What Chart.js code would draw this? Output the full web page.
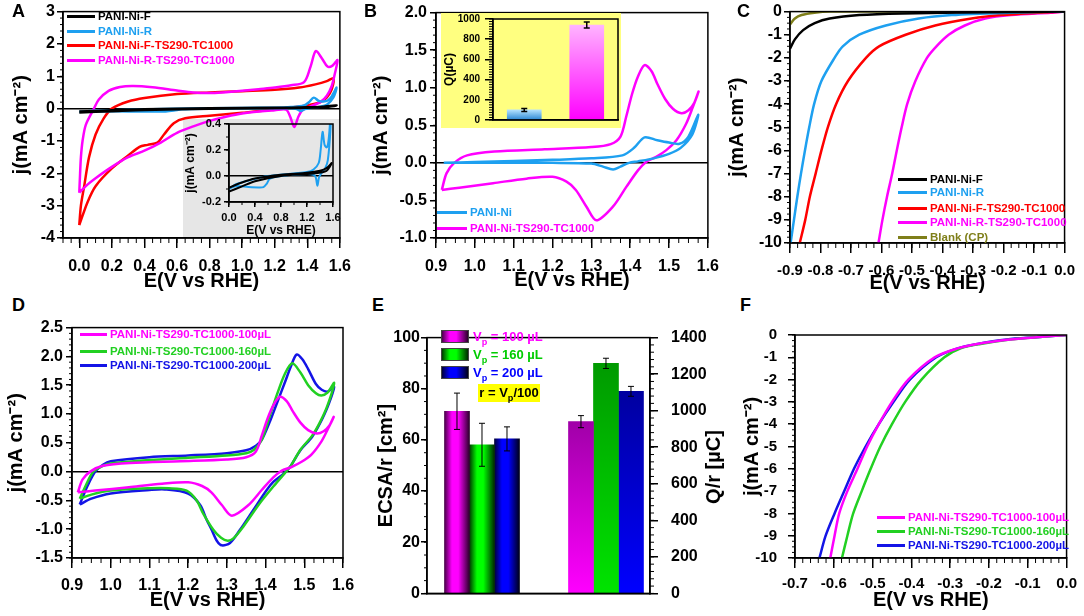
<!DOCTYPE html>
<html lang="en">
<head>
<meta charset="UTF-8">
<title>PANI-Ni electrochemistry</title>
<script src="https://cdn.jsdelivr.net/npm/chart.js@4.4.1/dist/chart.umd.min.js"></script>
<style>
  body { margin: 0; background: #fff; }
  #page { position: relative; width: 1084px; height: 616px; overflow: hidden; font-family: 'Liberation Sans', Arial, sans-serif; font-weight: bold; color: #000; }
  #page > * { position: absolute; }
  .tag { font-size: 18px; line-height: 18px; }
  .lg { display: flex; align-items: center; height: 0; white-space: nowrap; font-size: 11.5px; }
  .lg i { display: inline-block; height: 3px; margin-right: 3px; }
  .gray { background: #e6e6e6; }
  .yel { background: #ffff80; }
  .vp { display: flex; align-items: center; height: 0; font-size: 13px; white-space: nowrap; }
  .vp b { display: inline-block; width: 26px; height: 11px; border: 1px solid #444; margin-right: 4px; }
  .rbox { background: #ffff00; font-size: 13px; text-align: center; line-height: 18px; }
  .rt { font-size: 20px; white-space: nowrap; transform: translate(-50%, -50%) rotate(-90deg); }
  sub { font-size: 70%; line-height: 0; }
</style>
</head>
<body>
<div id="page"></div>
<script>
// ---- data ----
const aNames = ['PANI-Ni-F', 'PANI-Ni-R', 'PANI-Ni-F-TS290-TC1000', 'PANI-Ni-R-TS290-TC1000'];
const bNames = ['PANI-Ni', 'PANI-Ni-TS290-TC1000'];
const cNames = ['PANI-Ni-F', 'PANI-Ni-R', 'PANI-Ni-F-TS290-TC1000', 'PANI-Ni-R-TS290-TC1000', 'Blank (CP)'];
const dNames = ['PANI-Ni-TS290-TC1000-100µL', 'PANI-Ni-TS290-TC1000-160µL', 'PANI-Ni-TS290-TC1000-200µL'];

// A: CV 0 - 1.6 V
const aNiF_E = [0.0, 0.2, 0.4, 0.8, 1.2, 1.4, 1.5, 1.58, 1.5, 1.3, 0.8, 0.4, 0.2, 0.0];
const aNiF_J = [-0.09, -0.05, -0.02, 0.01, 0.025, 0.04, 0.06, 0.1, 0.04, 0.02, 0.0, -0.04, -0.08, -0.12];
const aNiR_E = [0.0, 0.1, 0.3, 0.6, 1.0, 1.2, 1.3, 1.38, 1.41, 1.44, 1.47, 1.5, 1.525, 1.55, 1.58, 1.56, 1.52, 1.48, 1.42, 1.385, 1.36, 1.335, 1.3, 1.2, 1.0, 0.8, 0.63, 0.58, 0.53, 0.45, 0.3, 0.1, 0.0];
const aNiR_J = [-0.1, -0.065, -0.035, 0.0, 0.02, 0.03, 0.05, 0.1, 0.2, 0.34, 0.24, 0.22, 0.25, 0.38, 0.65, 0.35, 0.12, 0.06, 0.02, -0.01, -0.075, -0.01, 0.01, 0.015, 0.01, 0.0, -0.02, -0.06, -0.085, -0.088, -0.085, -0.078, -0.1];
const aFT_E = [0.0, 0.01, 0.03, 0.06, 0.1, 0.15, 0.2, 0.3, 0.4, 0.6, 0.8, 1.0, 1.2, 1.35, 1.45, 1.52, 1.56, 1.55, 1.52, 1.48, 1.4, 1.3, 1.2, 1.0, 0.8, 0.65, 0.58, 0.52, 0.48, 0.42, 0.37, 0.3, 0.2, 0.1, 0.05, 0.0];
const aFT_J = [-3.6, -3.0, -2.4, -1.5, -0.8, -0.3, 0.0, 0.22, 0.33, 0.45, 0.5, 0.54, 0.58, 0.65, 0.75, 0.85, 0.94, 0.6, 0.35, 0.2, 0.1, 0.04, -0.03, -0.13, -0.22, -0.3, -0.45, -0.8, -1.05, -1.12, -1.18, -1.45, -1.85, -2.4, -2.9, -3.6];
const aRT_E = [0.0, 0.005, 0.01, 0.02, 0.04, 0.09, 0.12, 0.18, 0.25, 0.33, 0.45, 0.6, 0.7, 0.8, 0.9, 1.0, 1.1, 1.2, 1.3, 1.38, 1.42, 1.452, 1.49, 1.524, 1.555, 1.585, 1.57, 1.55, 1.52, 1.48, 1.42, 1.37, 1.345, 1.32, 1.295, 1.27, 1.2, 1.0, 0.9, 0.8, 0.7, 0.6, 0.5, 0.4, 0.3, 0.2, 0.1, 0.05, 0.0];
const aRT_J = [-2.6, -2.0, -1.5, -1.0, -0.5, 0.0, 0.28, 0.55, 0.67, 0.7, 0.66, 0.56, 0.5, 0.48, 0.51, 0.55, 0.6, 0.65, 0.72, 0.82, 1.3, 1.78, 1.55, 1.3, 1.33, 1.5, 1.1, 0.7, 0.4, 0.2, 0.07, -0.05, -0.25, -0.57, -0.25, -0.03, -0.05, -0.15, -0.25, -0.38, -0.55, -0.75, -1.05, -1.3, -1.5, -1.8, -2.15, -2.35, -2.6];
const aXLabels = ['0.0', '0.2', '0.4', '0.6', '0.8', '1.0', '1.2', '1.4', '1.6'];
const aYLabels = ['-4', '-3', '-2', '-1', '0', '1', '2', '3'];
const aInXLabels = ['0.0', '0.4', '0.8', '1.2', '1.6'];
const aInYLabels = ['-0.2', '0.0', '0.2', '0.4'];

// B: CV 0.9 - 1.6 V + charge inset
const bNi_E = [0.92, 1.0, 1.2, 1.3, 1.38, 1.41, 1.437, 1.47, 1.5, 1.527, 1.55, 1.575, 1.56, 1.53, 1.5, 1.46, 1.42, 1.397, 1.375, 1.356, 1.33, 1.3, 1.2, 1.0, 0.92];
const bNi_J = [0.0, 0.01, 0.04, 0.06, 0.1, 0.2, 0.34, 0.3, 0.27, 0.255, 0.35, 0.64, 0.38, 0.2, 0.12, 0.06, 0.02, 0.0, -0.05, -0.088, -0.05, -0.01, 0.0, 0.0, 0.0];
const bT_E = [0.915, 0.927, 0.947, 0.98, 1.05, 1.18, 1.3, 1.35, 1.375, 1.39, 1.405, 1.42, 1.437, 1.455, 1.47, 1.49, 1.51, 1.532, 1.55, 1.565, 1.576, 1.561, 1.544, 1.519, 1.493, 1.467, 1.441, 1.42, 1.39, 1.356, 1.313, 1.287, 1.26, 1.236, 1.2, 1.133, 1.047, 0.96, 0.915];
const bT_J = [-0.36, -0.14, 0.0, 0.1, 0.15, 0.18, 0.21, 0.25, 0.35, 0.62, 0.92, 1.15, 1.3, 1.22, 1.05, 0.85, 0.72, 0.66, 0.7, 0.8, 0.95, 0.74, 0.52, 0.3, 0.17, 0.08, 0.013, -0.1, -0.32, -0.58, -0.765, -0.58, -0.36, -0.25, -0.185, -0.21, -0.27, -0.33, -0.36];
const bXLabels = ['0.9', '1.0', '1.1', '1.2', '1.3', '1.4', '1.5', '1.6'];
const bYLabels = ['-1.0', '-0.5', '0.0', '0.5', '1.0', '1.5', '2.0'];
const bQ = [100, 940];
const bQErr = [15, 30];
const bQLabels = ['0', '200', '400', '600', '800', '1000'];

// C: LSV (HER)
const cJ = [-10, -9, -8, -7, -6, -5, -4, -3, -2, -1.5, -1, -0.6, -0.3, -0.15, -0.05, 0];
const cNiR_E = [-0.898, -0.887, -0.876, -0.864, -0.851, -0.837, -0.821, -0.797, -0.754, -0.727, -0.673, -0.586, -0.478, -0.37, -0.175, 0.0];
const cFT_E = [-0.868, -0.85, -0.835, -0.816, -0.797, -0.776, -0.749, -0.71, -0.651, -0.608, -0.521, -0.424, -0.305, -0.208, -0.089, 0.0];
const cRT_E = [-0.61, -0.597, -0.582, -0.565, -0.55, -0.534, -0.516, -0.489, -0.451, -0.42, -0.38, -0.327, -0.26, -0.175, -0.045, 0.0];
const cNiF_E = [-0.9, -0.884, -0.857, -0.819, -0.77, -0.673, -0.532, -0.26, 0.0];
const cNiF_J = [-1.6, -1.2, -0.8, -0.5, -0.3, -0.15, -0.08, -0.03, 0.0];
const cCP_E = [-0.9, -0.884, -0.862, -0.82, -0.77, -0.5, 0.0];
const cCP_J = [-0.55, -0.3, -0.15, -0.05, 0.0, 0.0, 0.0];
const cXLabels = ['-0.9', '-0.8', '-0.7', '-0.6', '-0.5', '-0.4', '-0.3', '-0.2', '-0.1', '0.0'];
const cYLabels = ['-10', '-9', '-8', '-7', '-6', '-5', '-4', '-3', '-2', '-1', '0'];

// D: CV vs loading (100 µL curve = bT)
const dG_E = [0.92, 0.935, 0.955, 0.98, 1.0, 1.1, 1.2, 1.3, 1.35, 1.37, 1.39, 1.41, 1.43, 1.45, 1.469, 1.49, 1.51, 1.53, 1.544, 1.56, 1.577, 1.56, 1.54, 1.52, 1.49, 1.465, 1.448, 1.42, 1.385, 1.342, 1.317, 1.302, 1.285, 1.265, 1.239, 1.222, 1.196, 1.15, 1.1, 1.0, 0.95, 0.92];
const dG_J = [-0.47, -0.25, 0.0, 0.1, 0.14, 0.2, 0.24, 0.28, 0.32, 0.38, 0.55, 0.95, 1.35, 1.7, 1.88, 1.72, 1.5, 1.36, 1.32, 1.37, 1.54, 1.15, 0.85, 0.62, 0.38, 0.1, -0.04, -0.26, -0.55, -0.96, -1.16, -1.2, -1.15, -1.01, -0.73, -0.5, -0.33, -0.29, -0.29, -0.33, -0.4, -0.47];
const dB_E = [0.92, 0.94, 0.96, 0.98, 1.0, 1.1, 1.2, 1.3, 1.35, 1.375, 1.39, 1.41, 1.43, 1.45, 1.465, 1.48, 1.495, 1.51, 1.53, 1.545, 1.561, 1.577, 1.56, 1.54, 1.52, 1.49, 1.463, 1.446, 1.42, 1.403, 1.368, 1.334, 1.308, 1.287, 1.274, 1.26, 1.248, 1.231, 1.2, 1.14, 1.1, 1.0, 0.95, 0.92];
const dB_J = [-0.57, -0.25, 0.0, 0.12, 0.18, 0.25, 0.28, 0.32, 0.37, 0.45, 0.55, 0.85, 1.2, 1.55, 1.82, 2.03, 1.95, 1.78, 1.52, 1.42, 1.39, 1.47, 1.12, 0.83, 0.6, 0.37, 0.08, -0.04, -0.18, -0.32, -0.67, -1.01, -1.24, -1.28, -1.2, -1.0, -0.84, -0.58, -0.38, -0.31, -0.32, -0.38, -0.47, -0.57];
const dXLabels = ['0.9', '1.0', '1.1', '1.2', '1.3', '1.4', '1.5', '1.6'];
const dYLabels = ['-1.5', '-1.0', '-0.5', '0.0', '0.5', '1.0', '1.5', '2.0', '2.5'];

// E: ECSA/r and Q/r
const eVolumes = ['100', '160', '200'];
const eEcsa = [71.2, 58.1, 60.4];
const eEcsaErr = [7.1, 8.4, 4.7];
const eQ = [940, 1259, 1106];
const eQErr = [33, 28, 27];
const eYLabels = ['0', '20', '40', '60', '80', '100'];
const eY2Labels = ['0', '200', '400', '600', '800', '1000', '1200', '1400'];

// F: LSV vs loading
const fJ = [-10, -9, -8, -7, -6, -5, -4, -3, -2, -1, -0.6, -0.4, -0.2, -0.1, 0];
const f100_E = [-0.609, -0.598, -0.586, -0.565, -0.539, -0.514, -0.484, -0.45, -0.408, -0.34, -0.281, -0.23, -0.146, -0.078, 0.0];
const f160_E = [-0.579, -0.565, -0.55, -0.528, -0.505, -0.48, -0.45, -0.416, -0.374, -0.315, -0.273, -0.222, -0.146, -0.078, 0.0];
const f200_E = [-0.637, -0.621, -0.598, -0.573, -0.548, -0.518, -0.484, -0.446, -0.404, -0.336, -0.281, -0.23, -0.154, -0.078, 0.0];
const fXLabels = ['-0.7', '-0.6', '-0.5', '-0.4', '-0.3', '-0.2', '-0.1', '0.0'];
const fYLabels = cYLabels;

// ---- colours ----
const BLACK = '#000000', LBLUE = '#1ea0f0', RED = '#ff0000', MAG = '#ff00ff', OLIVE = '#7f7f1a', GREEN = '#22d022', BLUE = '#1414e6';

Chart.defaults.font.family = "'Liberation Sans', Arial, sans-serif";
Chart.defaults.font.weight = 'bold';
Chart.defaults.color = '#000';
Chart.defaults.animation = false;
Chart.defaults.plugins.legend.display = false;
Chart.defaults.plugins.tooltip.enabled = false;

const page = document.getElementById('page');
const J_TITLE = 'j(mA cm\u207B\u00B2)';
const E_TITLE = 'E(V vs RHE)';

function place(tag, l, t, r, b, cls) {
  const el = document.createElement(tag);
  el.style.left = l + 'px';
  el.style.top = t + 'px';
  el.style.width = (r - l) + 'px';
  el.style.height = (b - t) + 'px';
  if (tag === 'canvas') { el.width = r - l; el.height = b - t; }
  if (cls) el.className = cls;
  page.appendChild(el);
  return el;
}

function text(html, l, t, cls) {
  const d = document.createElement('div');
  d.innerHTML = html;
  d.className = cls || '';
  d.style.left = l + 'px';
  d.style.top = t + 'px';
  page.appendChild(d);
  return d;
}

function legend(x, ys, names, colors, lineW) {
  names.forEach((n, i) => {
    const row = text('<i style="width:' + lineW + 'px;background:' + colors[i] + '"></i><span>' + n + '</span>', x, ys[i], 'lg');
    row.style.color = colors[i];
  });
}

// linear axis with fixed tick list and fixed thickness
function axis(pos, labels, o) {
  const vals = labels.map(Number);
  return {
    type: 'linear', position: pos,
    min: o.min ?? Math.min(...vals), max: o.max ?? Math.max(...vals),
    afterBuildTicks: s => { s.ticks = vals.map(v => ({ value: v })); },
    afterFit: s => { if (s.isHorizontal()) s.height = o.size; else s.width = o.size; },
    ticks: { autoSkip: false, maxRotation: 0, padding: o.pad, font: { size: o.fs || 16 }, callback: (v, i) => labels[i] },
    grid: {
      drawOnChartArea: !!o.zero,
      color: c => (o.zero && c.tick && c.tick.value === 0) ? '#000' : 'rgba(0,0,0,0)',
      lineWidth: 1.5, tickColor: '#000', tickLength: o.tl, tickWidth: 1.5
    },
    border: { color: '#000', width: 1.5 },
    title: { display: !!o.title, text: o.title, font: { size: o.tfs || 20 }, padding: { top: o.tp || 0, bottom: o.tp || 0 } }
  };
}

// minor ticks + closed frame
function frame(minor) {
  return {
    id: 'frame',
    afterDraw(chart) {
      const ctx = chart.ctx, a = chart.chartArea;
      ctx.save();
      ctx.strokeStyle = '#000';
      ctx.lineWidth = 1;
      minor.forEach(([id, step, len]) => {
        const s = chart.scales[id];
        const k0 = Math.ceil(s.min / step - 1e-6), k1 = Math.floor(s.max / step + 1e-6);
        for (let k = k0; k <= k1; k++) {
          const p = s.getPixelForValue(k * step);
          ctx.beginPath();
          if (s.isHorizontal()) { ctx.moveTo(p, a.bottom); ctx.lineTo(p, a.bottom + len); }
          else if (s.position === 'left') { ctx.moveTo(a.left, p); ctx.lineTo(a.left - len, p); }
          else { ctx.moveTo(a.right, p); ctx.lineTo(a.right + len, p); }
          ctx.stroke();
        }
      });
      ctx.lineWidth = 1.5;
      ctx.strokeRect(a.left, a.top, a.right - a.left, a.bottom - a.top);
      ctx.restore();
    }
  };
}

// error bars from dataset.errs
function errBars(cap, w) {
  return {
    id: 'errbars',
    afterDatasetsDraw(chart) {
      const ctx = chart.ctx;
      ctx.save();
      ctx.strokeStyle = '#000';
      ctx.lineWidth = w;
      chart.data.datasets.forEach((ds, i) => {
        const meta = chart.getDatasetMeta(i);
        const ys = chart.scales[meta.yAxisID];
        meta.data.forEach((bar, j) => {
          const p = meta.controller.getParsed(j);
          const e = ds.errs[j];
          if (p.y == null || e == null) return;
          const y1 = ys.getPixelForValue(p.y - e), y2 = ys.getPixelForValue(p.y + e);
          ctx.beginPath();
          ctx.moveTo(bar.x, y1); ctx.lineTo(bar.x, y2);
          ctx.moveTo(bar.x - cap, y1); ctx.lineTo(bar.x + cap, y1);
          ctx.moveTo(bar.x - cap, y2); ctx.lineTo(bar.x + cap, y2);
          ctx.stroke();
        });
      });
      ctx.restore();
    }
  };
}

function series(e, j, color, w) {
  return { data: e.map((x, i) => ({ x: x, y: j[i] })), borderColor: color, backgroundColor: color, borderWidth: w || 2.5, showLine: true, tension: 0.3, pointRadius: 0 };
}

function curveChart(cv, pad, xAxis, yAxis, sets, minor) {
  return new Chart(cv, {
    type: 'scatter',
    data: { datasets: sets },
    options: { responsive: false, devicePixelRatio: 1, layout: { padding: { top: pad[0], right: pad[1], left: 0, bottom: 0 } }, scales: { x: xAxis, y: yAxis } },
    plugins: [frame(minor)]
  });
}

// ---- A ----
place('div', 183, 119, 339, 237, 'gray');
curveChart(place('canvas', 0, 0, 360, 293), [10, 20],
  axis('bottom', aXLabels, { min: -0.1, max: 1.6, tl: 10, pad: 9, size: 55, title: E_TITLE }),
  axis('left', aYLabels, { tl: 6, pad: 2, size: 63, zero: true, title: J_TITLE, tp: 9 }),
  [series(aNiF_E, aNiF_J, BLACK), series(aNiR_E, aNiR_J, LBLUE), series(aRT_E, aRT_J, MAG), series(aFT_E, aFT_J, RED)],
  [['x', 0.05, 5], ['y', 0.2, 3]]);
curveChart(place('canvas', 183, 114, 345, 238), [10, 12],
  axis('bottom', aInXLabels, { tl: 5, pad: 4, fs: 11, size: 36, title: E_TITLE, tfs: 12 }),
  axis('left', aInYLabels, { tl: 5, pad: 3, fs: 11, size: 46, zero: true, title: J_TITLE, tfs: 12 }),
  [series(aNiF_E, aNiF_J, BLACK, 2), series(aNiR_E, aNiR_J, LBLUE, 2)],
  [['x', 0.2, 3], ['y', 0.1, 3]]);
legend(67, [16, 31, 45, 60], aNames, [BLACK, LBLUE, RED, MAG], 28);

// ---- B ----
curveChart(place('canvas', 360, 0, 728, 292), [11, 20],
  axis('bottom', bXLabels, { tl: 10, pad: 9, size: 54, title: E_TITLE }),
  axis('left', bYLabels, { tl: 6, pad: 3, size: 76, zero: true, title: J_TITLE, tp: 9 }),
  [series(bNi_E, bNi_J, LBLUE), series(bT_E, bT_J, MAG)],
  [['x', 0.025, 5], ['y', 0.1, 3]]);
place('div', 441, 13, 621, 128, 'yel');
new Chart(place('canvas', 441, 7, 624, 131), {
  type: 'bar',
  data: {
    labels: bNames,
    datasets: [{
      data: bQ, errs: bQErr, barThickness: 34, borderWidth: 0,
      backgroundColor: c => {
        const ch = c.chart, a = ch.chartArea;
        const cols = [['#b4e2ff', '#2a86d4'], ['#ffb4ff', '#ff00ff']][c.dataIndex || 0];
        if (!a || c.dataIndex == null) return cols[1];
        const g = ch.ctx.createLinearGradient(0, ch.scales.y.getPixelForValue(bQ[c.dataIndex]), 0, a.bottom);
        g.addColorStop(0, cols[0]); g.addColorStop(1, cols[1]);
        return g;
      }
    }]
  },
  options: {
    responsive: false, devicePixelRatio: 1,
    layout: { padding: { top: 12, right: 6, left: 0, bottom: 0 } },
    scales: {
      x: { type: 'category', offset: true, ticks: { display: false }, grid: { drawOnChartArea: false, drawTicks: false }, border: { color: '#000', width: 1.5 }, afterFit: s => { s.height = 8; } },
      y: axis('left', bQLabels, { tl: 8, pad: 5, fs: 10, size: 52, title: 'Q(µC)', tfs: 12, tp: 1 })
    }
  },
  plugins: [frame([['y', 25, 4]]), errBars(3, 1.5)]
});
legend(437, [212, 228], bNames, [LBLUE, MAG], 30);

// ---- C ----
curveChart(place('canvas', 722, 0, 1084, 295), [11, 17],
  axis('bottom', cXLabels, { tl: 10, pad: 9, fs: 15, size: 52, title: E_TITLE }),
  axis('left', cYLabels, { tl: 6, pad: 2, size: 68, title: J_TITLE, tp: 3 }),
  [series(cNiF_E, cNiF_J, BLACK), series(cNiR_E, cJ, LBLUE), series(cFT_E, cJ, RED), series(cRT_E, cJ, MAG), series(cCP_E, cCP_J, OLIVE)],
  [['x', 0.025, 5], ['y', 0.25, 3]]);
legend(898, [179, 192, 208, 222, 237], cNames, [BLACK, LBLUE, RED, MAG, OLIVE], 29);

// ---- D ----
curveChart(place('canvas', 0, 315, 363, 612), [12, 20],
  axis('bottom', dXLabels, { tl: 10, pad: 8, size: 54, title: E_TITLE }),
  axis('left', dYLabels, { tl: 6, pad: 3, size: 72, zero: true, title: J_TITLE, tp: 4 }),
  [series(bT_E, bT_J, MAG), series(dG_E, dG_J, GREEN), series(dB_E, dB_J, BLUE)],
  [['x', 0.025, 5], ['y', 0.1, 3]]);
legend(80, [334, 351, 365], dNames, [MAG, GREEN, BLUE], 27);

// ---- E ----
const eHoriz = [['#4a004a', '#ff00ff', '#2a002a'], ['#003a00', '#00ff00', '#002a00'], ['#00003a', '#0000ff', '#000018']];
const eVert = [['#a000a8', '#ff00ff'], ['#009a00', '#00e400'], ['#0000a0', '#0000ff']];
const eSets = [];
eVolumes.forEach((v, k) => {
  eSets.push({
    data: [{ x: 0, y: eEcsa[k] }, { x: 1, y: null }], errs: [eEcsaErr[k], null], yAxisID: 'y',
    backgroundColor: c => {
      const ch = c.chart;
      if (!ch.chartArea || !ch.scales.x) return eHoriz[k][1];
      const cx = ch.scales.x.getPixelForValue(0) + (k - 1) * 25;
      const g = ch.ctx.createLinearGradient(cx - 12.5, 0, cx + 12.5, 0);
      g.addColorStop(0, eHoriz[k][0]); g.addColorStop(0.3, eHoriz[k][1]); g.addColorStop(0.55, eHoriz[k][1]); g.addColorStop(1, eHoriz[k][2]);
      return g;
    }
  });
});
eVolumes.forEach((v, k) => {
  eSets.push({
    data: [{ x: 0, y: null }, { x: 1, y: eQ[k] }], errs: [null, eQErr[k]], yAxisID: 'y2',
    backgroundColor: c => {
      const ch = c.chart, a = ch.chartArea;
      if (!a || !ch.scales.y2) return eVert[k][1];
      const g = ch.ctx.createLinearGradient(0, ch.scales.y2.getPixelForValue(eQ[k]), 0, a.bottom);
      g.addColorStop(0, eVert[k][0]); g.addColorStop(1, eVert[k][1]);
      return g;
    }
  });
});
eSets.forEach(s => { s.barThickness = 25; s.skipNull = true; s.borderWidth = 0; });
new Chart(place('canvas', 365, 315, 727, 616), {
  type: 'bar',
  data: { datasets: eSets },
  options: {
    responsive: false, devicePixelRatio: 1,
    layout: { padding: { top: 12, right: 0, left: 0, bottom: 0 } },
    scales: {
      x: { type: 'linear', min: -0.4435, max: 1.355, offset: false, ticks: { display: false }, grid: { offset: false, drawOnChartArea: false, drawTicks: false }, border: { color: '#000', width: 1.5 }, afterFit: s => { s.height = 8; } },
      y: axis('left', eYLabels, { tl: 6, pad: 1, size: 62, title: 'ECSA/r [cm\u00B2]', tp: 9 }),
      y2: axis('right', eY2Labels, { tl: 8, pad: 13, size: 77 })
    }
  },
  plugins: [frame([['y', 5, 3], ['y2', 40, 4]]), errBars(3, 1)]
});
text('Q/r [µC]', 713, 467, 'rt');
eVolumes.forEach((v, k) => {
  const row = text('<b style="background:linear-gradient(to right,' + eHoriz[k][0] + ',' + eHoriz[k][1] + ' 30%,' + eHoriz[k][1] + ' 55%,' + eHoriz[k][2] + ')"></b><span>V<sub>p</sub> = ' + v + ' µL</span>', 441, 336 + k * 18, 'vp');
  row.style.color = [MAG, '#00cc00', '#0000ff'][k];
});
place('div', 478, 384, 540, 402, 'rbox').innerHTML = 'r = V<sub>p</sub>/100';

// ---- F ----
curveChart(place('canvas', 735, 315, 1084, 612), [12, 13],
  axis('bottom', fXLabels, { tl: 10, pad: 7, fs: 15, size: 54, title: E_TITLE }),
  axis('left', fYLabels, { tl: 7, pad: 11, fs: 15, size: 60, title: J_TITLE, tp: 5 }),
  [series(f100_E, fJ, MAG), series(f160_E, fJ, GREEN), series(f200_E, fJ, BLUE)],
  [['x', 0.02, 5], ['y', 0.25, 3]]);
legend(877, [517, 531, 545], dNames, [MAG, GREEN, BLUE], 28);

// ---- panel letters ----
[['A', 12, 2], ['B', 364, 2], ['C', 737, 2], ['D', 12, 296], ['E', 372, 296], ['F', 740, 296]].forEach(t => text(t[0], t[1], t[2], 'tag'));
</script>
</body>
</html>
